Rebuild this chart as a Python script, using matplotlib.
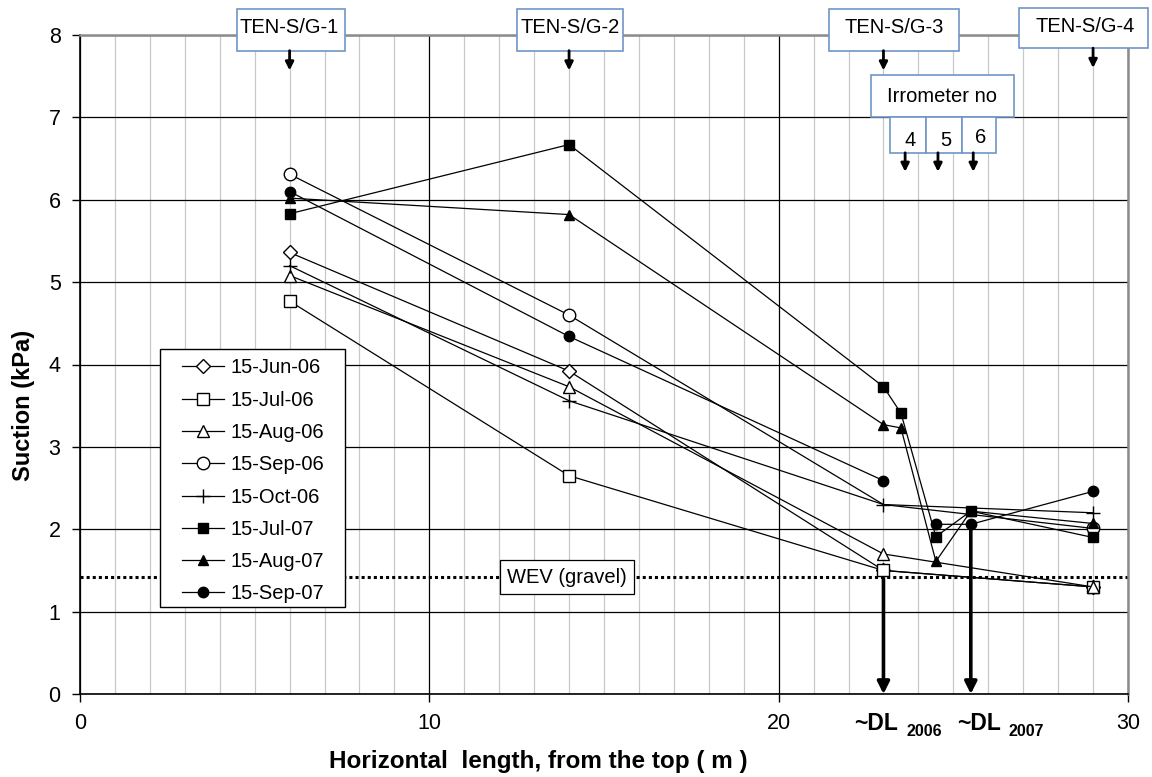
import numpy as np
import matplotlib
matplotlib.use("Agg")
import matplotlib.pyplot as plt
from matplotlib.patches import Rectangle

plt.rcParams['font.family'] = ['Liberation Sans', 'DejaVu Sans']

# measurement positions along the slope (m)
x_2006 = [6, 14, 23, 29]
x_2007 = [6, 14, 23, 23.5, 24.5, 25.5, 29]

# suction readings (kPa)
jun06 = [5.36, 3.92, 1.50, 1.30]
jul06 = [4.77, 2.65, 1.50, 1.30]
aug06 = [5.08, 3.73, 1.70, 1.30]
sep06 = [6.31, 4.60, 2.30, 2.01]
oct06 = [5.20, 3.56, 2.30, 2.20]
jul07 = [5.83, 6.67, 3.73, 3.41, 1.91, 2.22, 1.90]
aug07 = [6.02, 5.82, 3.27, 3.23, 1.61, 2.22, 2.07]
sep07 = [6.10, 4.34, 2.59, np.nan, 2.06, 2.06, 2.46]

wev = 1.42
gauges = ['TEN-S/G-1', 'TEN-S/G-2', 'TEN-S/G-3', 'TEN-S/G-4']
gauge_x = [6, 14, 23, 29]
irrometers = ['4', '5', '6']
dl_x = [23, 25.5]
dl_top = [1.40, 2.01]
dl_years = ['2006', '2007']

fig = plt.figure(figsize=(11.52, 7.77), dpi=100)
ax = fig.add_axes([80/1152, 1 - 694/777, 1048/1152, 659/777])

lw = 0.9
ax.plot(x_2006, jun06, '-', color='k', lw=lw, marker='D', ms=7.5, mfc='white', mec='k', mew=1, label='15-Jun-06')
ax.plot(x_2006, jul06, '-', color='k', lw=lw, marker='s', ms=8.5, mfc='white', mec='k', mew=1, label='15-Jul-06')
ax.plot(x_2006, aug06, '-', color='k', lw=lw, marker='^', ms=9, mfc='white', mec='k', mew=1, label='15-Aug-06')
ax.plot(x_2006, sep06, '-', color='k', lw=lw, marker='o', ms=9, mfc='white', mec='k', mew=1, markevery=[0, 1, 3], label='15-Sep-06')
ax.plot(x_2006, oct06, '-', color='k', lw=lw, marker='+', ms=10, mew=1, label='15-Oct-06')
ax.plot(x_2007, jul07, '-', color='k', lw=lw, marker='s', ms=7, label='15-Jul-07')
ax.plot(x_2007, aug07, '-', color='k', lw=lw, marker='^', ms=7.5, label='15-Aug-07')
ax.plot(x_2007, sep07, '-', color='k', lw=lw, marker='o', ms=7.5, label='15-Sep-07')

# water entry value of the gravel
ax.axhline(wev, color='k', lw=2.2, ls=(0, (1, 1)), zorder=1)
ax.text(13.95, wev, 'WEV (gravel)', ha='center', va='center', fontsize=14.5, zorder=5,
        bbox=dict(boxstyle='square,pad=0.35', fc='white', ec='k', lw=0.9))

# drying limits
for xd, yt in zip(dl_x, dl_top):
    ax.annotate('', xy=(xd, 0), xytext=(xd, yt),
                arrowprops=dict(arrowstyle='-|>', lw=2.6, color='k', mutation_scale=18,
                                shrinkA=0, shrinkB=0), zorder=4)
tr = ax.get_xaxis_transform()
for xr, yr in zip([23.42, 26.36], dl_years):
    ax.text(xr, -0.0546, '~DL', transform=tr, ha='right', va='baseline', fontsize=16.5, fontweight='bold')
    ax.text(xr + 0.23, -0.0637, yr, transform=tr, ha='left', va='baseline', fontsize=11.5, fontweight='bold')

# tensiometer / strain gauge labels above the plot
box_edge = '#6f96c8'
box_x = [(4.49, 7.58), (12.51, 15.54), (21.44, 25.16), (26.88, 30.58)]
box_y = [(7.81, 8.32), (7.81, 8.32), (7.81, 8.32), (7.84, 8.33)]
text_x = [5.99, 14.03, 23.3, 28.77]
for g, gx, (x0, x1), (y0, y1), tx in zip(gauges, gauge_x, box_x, box_y, text_x):
    ax.add_patch(Rectangle((x0, y0), x1 - x0, y1 - y0, fc='white', ec=box_edge, lw=1.2,
                           clip_on=False, zorder=6))
    ax.text(tx, (y0 + y1) / 2 + 0.02, g, ha='center', va='center', fontsize=14.5, zorder=7, clip_on=False)
    ax.annotate('', xy=(gx, y0 - 0.24), xytext=(gx, y0),
                arrowprops=dict(arrowstyle='-|>', lw=2, color='k', mutation_scale=12,
                                shrinkA=0, shrinkB=0), zorder=6, annotation_clip=False)

# irrometer labels
ax.add_patch(Rectangle((22.65, 7.0), 4.09, 0.51, fc='white', ec=box_edge, lw=1.2, zorder=6))
ax.text(24.68, 7.25, 'Irrometer no', ha='center', va='center', fontsize=14.5, zorder=7)
irr_box = [(23.19, 24.22), (24.22, 25.25), (25.25, 26.22)]
irr_arrow = [23.62, 24.56, 25.57]
irr_ty = [6.72, 6.72, 6.76]
for lab, (x0, x1), xa, ty in zip(irrometers, irr_box, irr_arrow, irr_ty):
    ax.add_patch(Rectangle((x0, 6.57), x1 - x0, 0.43, fc='white', ec=box_edge, lw=1.2, zorder=6))
    ax.text((x0 + x1) / 2 + 0.05, ty, lab, ha='center', va='center', fontsize=14.5, zorder=7)
    ax.annotate('', xy=(xa, 6.34), xytext=(xa, 6.57),
                arrowprops=dict(arrowstyle='-|>', lw=2, color='k', mutation_scale=12,
                                shrinkA=0, shrinkB=0), zorder=6)

ax.set_xlim(0, 30)
ax.set_ylim(0, 8)
ax.set_xticks([0, 10, 20, 30])
ax.set_xticks(np.arange(0, 31, 1), minor=True)
ax.set_yticks(np.arange(0, 9, 1))
ax.tick_params(axis='both', which='major', direction='out', length=6, width=1, labelsize=15.5, pad=8)
ax.tick_params(axis='x', which='minor', length=0)
ax.grid(True, axis='x', which='minor', color='#c8c8c8', lw=0.9)
ax.grid(True, axis='x', which='major', color='k', lw=0.9)
ax.grid(True, axis='y', which='major', color='k', lw=0.9)
ax.set_axisbelow(True)
for s in ['left', 'bottom']:
    ax.spines[s].set_color('k')
    ax.spines[s].set_linewidth(1.2)
for s in ['top', 'right']:
    ax.spines[s].set_color('#8c8c8c')
    ax.spines[s].set_linewidth(1.8)

ax.set_ylabel('Suction (kPa)', fontsize=17, fontweight='bold')
ax.set_xlabel('Horizontal  length, from the top ( m )', fontsize=17.5, fontweight='bold')
ax.yaxis.set_label_coords(-0.043, 0.4385)
ax.xaxis.set_label_coords(0.4375, -0.085)

# legend, framed by hand to get the wide side margins
ax.add_patch(Rectangle((0.0763, 0.132), 0.1766, 0.3915, transform=ax.transAxes,
                       fc='white', ec='k', lw=1.0, zorder=7))
leg = ax.legend(loc='upper left', bbox_to_anchor=(0.0973, 0.5092), fontsize=14.5, frameon=False,
                borderaxespad=0, borderpad=0, handlelength=2.1, handletextpad=0.3,
                labelspacing=0.66)
leg.set_zorder(8)

fig.savefig('out.png', dpi=100)
